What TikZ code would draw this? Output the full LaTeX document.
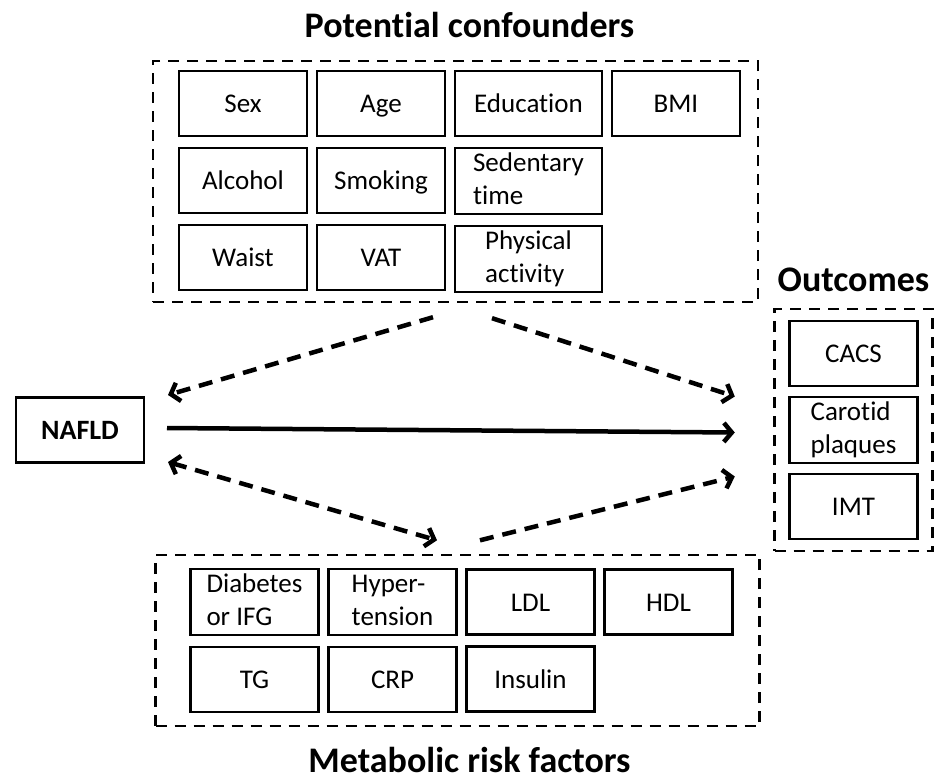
\documentclass[tikz,border=0pt]{standalone}
\usepackage{fontspec}
\setmainfont[Ligatures=NoCommon]{Carlito}
\usetikzlibrary{positioning,arrows.meta,fit}

\newcommand{\bxstrut}{\rule[-7.5pt]{0pt}{33pt}}
\newcommand{\twoline}[2]{\begin{tabular}[b]{@{}l@{}}#1\\#2\end{tabular}}

\begin{document}
\begin{tikzpicture}[
  x=1pt, y=1pt,
  node distance=12pt and 10pt,
  >={Straight Barb[length=8pt,width=19pt]},
  box/.style={draw, line width=2.6pt, outer sep=0pt, minimum width=128pt, minimum height=65pt, inner xsep=2pt, inner ysep=0pt, font=\fontsize{27}{33}\selectfont, execute at begin node=\bxstrut},
  wbox/.style={box, minimum width=147pt},
  grp/.style={draw, line width=2.4pt, dash pattern=on 11pt off 8pt},
  ttl/.style={font=\fontsize{36}{40}\selectfont\bfseries, inner sep=0pt},
  arr/.style={->, line width=4.5pt},
  darr/.style={arr, dash pattern=on 14pt off 9pt}
]
\useasboundingbox (0,0) rectangle (940,-782);

% potential confounders
\node[box] (sex) at (243,-103.5) {Sex};
\node[box, right=of sex] (age) {Age};
\node[wbox, right=of age] (edu) {Education};
\node[box, right=of edu] (bmi) {BMI};
\node[box, below=of sex] (alc) {Alcohol};
\node[box, below=of age] (smk) {Smoking};
\node[wbox, below=of edu] (sed) {\twoline{Sedentary}{time}};
\node[box, below=of alc] (waist) {Waist};
\node[box, below=of smk] (vat) {VAT};
\node[wbox, below=of sed] (pa) {\twoline{Physical}{activity}};
\node[grp, fit=(sex)(bmi)(waist)(pa), inner xsep=22pt, inner ysep=10pt, xshift=-4pt] (cgrp) {};
\node[ttl, above=22pt of cgrp, xshift=14pt] (tconf) {Potential confounders};

% exposure
\node[box, font=\fontsize{28}{33}\selectfont\bfseries] (nafld) at (80,-430) {NAFLD};

% outcomes
\node[box] (cacs) at (853.5,-353.5) {CACS};
\node[box, below=11pt of cacs] (carot) {\twoline{Carotid}{plaques}};
\node[box, below=11pt of carot] (imt) {IMT};
\node[grp, fit=(cacs)(imt), inner xsep=15pt, inner ysep=12pt] (ogrp) {};
\node[ttl, above=16pt of ogrp] (tout) {Outcomes};

% metabolic risk factors
\node[box] (diab) at (254.5,-602) {\twoline{Diabetes}{or IFG}};
\node[box, right=of diab] (hyp) {\twoline{Hyper-}{tension}};
\node[box, right=of hyp] (ldl) {LDL};
\node[box, right=of ldl] (hdl) {HDL};
\node[box, below=of diab] (tg) {TG};
\node[box, below=of hyp] (crp) {CRP};
\node[box, below=of ldl] (ins) {Insulin};
\node[grp, fit=(diab)(hdl)(tg)(ins), inner xsep=31pt, inner ysep=14pt, xshift=-4pt] (mgrp) {};
\node[ttl, below=20pt of mgrp, xshift=12pt] (tmet) {Metabolic risk factors};

% arrows
\draw[darr] ([shift={(-22.5,-14)}]cgrp.south) -- ([shift={(24,35)}]nafld.east);
\draw[darr] ([shift={(36.5,-15)}]cgrp.south) -- ([shift={(-38.5,33.5)}]ogrp.west);
\draw[arr] ([shift={(23,2)}]nafld.east) -- ([shift={(-38.5,-2.5)}]ogrp.west);
\draw[darr, <->] ([shift={(24,-32)}]nafld.east) -- ([shift={(-20.5,13.5)}]mgrp.north);
\draw[darr] ([shift={(22.5,13.5)}]mgrp.north) -- ([shift={(-38.5,-46.5)}]ogrp.west);
\end{tikzpicture}
\end{document}
